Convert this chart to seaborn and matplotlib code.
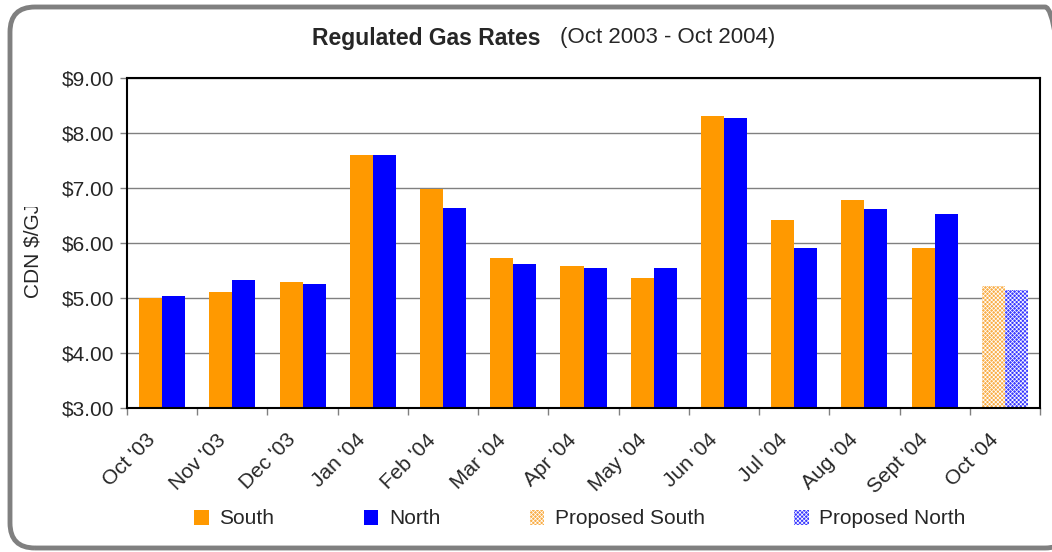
import numpy as np
import pandas as pd
import matplotlib
matplotlib.use("Agg")
import matplotlib.pyplot as plt
import seaborn as sns
from matplotlib.patches import Patch, FancyBboxPatch
from matplotlib.transforms import IdentityTransform, ScaledTranslation, Bbox

months = ["Oct '03", "Nov '03", "Dec '03", "Jan '04", "Feb '04", "Mar '04", "Apr '04",
          "May '04", "Jun '04", "Jul '04", "Aug '04", "Sept '04", "Oct '04"]
south = [5.00, 5.11, 5.29, 7.60, 6.98, 5.73, 5.58, 5.36, 8.31, 6.42, 6.78, 5.91, 5.22]
north = [5.04, 5.33, 5.25, 7.60, 6.64, 5.62, 5.55, 5.55, 8.27, 5.91, 6.61, 6.53, 5.15]
proposed_month = "Oct '04"
yticks = [3, 4, 5, 6, 7, 8, 9]

ORANGE = "#FF9900"
BLUE = "#0000FF"
FS = 15

df = pd.DataFrame({
    "month": months * 2,
    "rate": south + north,
    "series": ["South"] * len(months) + ["North"] * len(months),
})

sns.set_style("white")
plt.rcParams["font.family"] = ["Liberation Sans", "DejaVu Sans"]
plt.rcParams["hatch.linewidth"] = 0.5

fig = plt.figure(figsize=(10.52, 5.52), dpi=100)
ax = fig.add_axes([127 / 1052, 1 - 408 / 552, (1040 - 127) / 1052, (408 - 78) / 552])

sns.barplot(data=df, x="month", y="rate", hue="series", order=months,
            hue_order=["South", "North"], palette={"South": ORANGE, "North": BLUE},
            width=0.655, saturation=1, gap=0, ax=ax, legend=False, linewidth=0)

# proposed values (last month) get a dotted/checkered fill
idx = months.index(proposed_month)
n = len(months)
for k, patch in enumerate(ax.patches):
    if k % n == idx and k < 2 * n:
        patch.set_hatch("xxxxxxxx")
        patch.set_edgecolor("white")
        patch.set_linewidth(0)
        if k < n:
            patch.set_facecolor("#F9AE48")
        else:
            patch.set_facecolor("#3A3AFF")

ax.set_ylim(3, 9)
ax.set_xlim(-0.5, n - 0.5)
ax.set_yticks(yticks)
ax.set_yticklabels(["\\$%.2f" % v for v in yticks], fontsize=FS)
ax.yaxis.grid(True, color="#808080", linewidth=1)
ax.set_axisbelow(True)
ax.tick_params(axis="y", left=True, length=5, width=1, color="#808080", pad=4)

ax.set_xticks(np.arange(n))
ax.set_xticklabels(months, rotation=45, ha="right", rotation_mode="anchor", fontsize=FS)
ax.set_xticks(np.arange(n + 1) - 0.5, minor=True)
ax.tick_params(axis="x", which="major", length=0, pad=12)
ax.tick_params(axis="x", which="minor", bottom=True, length=5, width=1, color="#808080")
shift = ScaledTranslation(-12 / 72, -4 / 72, fig.dpi_scale_trans)
for lab in ax.get_xticklabels():
    lab.set_transform(lab.get_transform() + shift)
ax.set_xlabel("")
ax.set_ylabel("")
for s in ax.spines.values():
    s.set_color("black")
    s.set_linewidth(1.5)
    s.set_visible(True)

# axis title is partly hidden at the top in the original
ylab = fig.text(33 / 1052, 1 - 298 / 552, "CDN \\$/GJ", rotation=90, va="bottom", ha="center",
                fontsize=FS)
ylab.set_clip_on(True)
ylab.set_clip_box(Bbox([[0, 0], [1052, 552 - 207]]))

fig.text(540 / 1052, 1 - 38 / 552, "Regulated Gas Rates", ha="right", va="center",
         fontsize=16.5, fontweight="bold")
fig.text(560 / 1052, 1 - 38 / 552, "(Oct 2003 - Oct 2004)", ha="left", va="center", fontsize=16)

handles = [
    Patch(facecolor=ORANGE, edgecolor="none", label="South"),
    Patch(facecolor=BLUE, edgecolor="none", label="North"),
    Patch(facecolor="#F9AE48", edgecolor="white", hatch="xxxxxxxx", linewidth=0, label="Proposed South"),
    Patch(facecolor="#3A3AFF", edgecolor="white", hatch="xxxxxxxx", linewidth=0, label="Proposed North"),
]
fig.legend(handles=handles, loc="center", bbox_to_anchor=(580 / 1052, 1 - 519 / 552), ncol=4,
           frameon=False, fontsize=FS, handlelength=0.7, handleheight=0.7,
           handletextpad=0.5, columnspacing=4.3)

frame = FancyBboxPatch((10, 4), 1060, 541, boxstyle="round,pad=0,rounding_size=25",
                       transform=IdentityTransform(), facecolor="none",
                       edgecolor="#808080", linewidth=3.5, clip_on=False)
fig.patches.append(frame)

fig.savefig("out.png", dpi=100)
